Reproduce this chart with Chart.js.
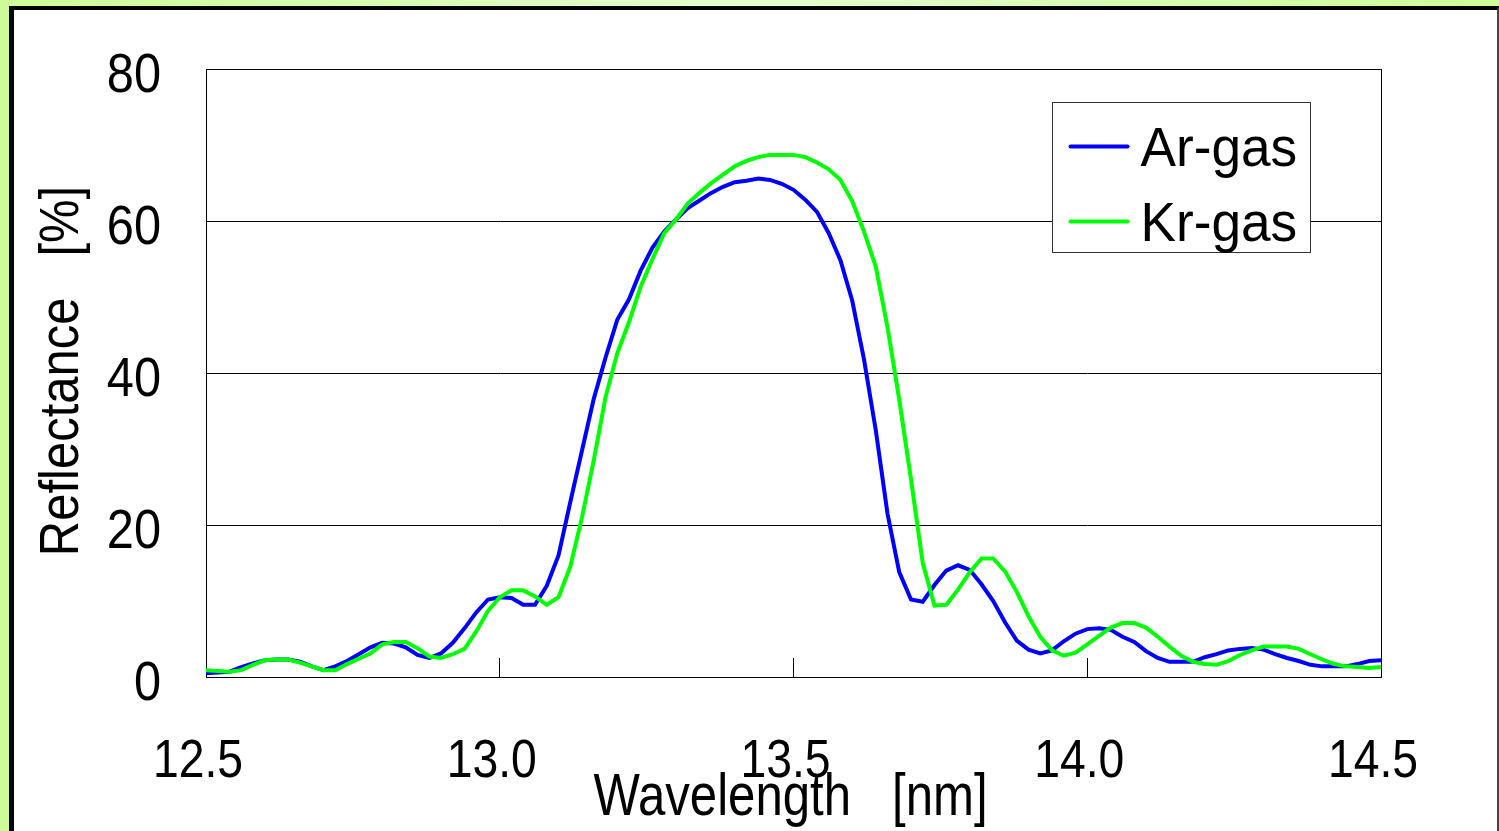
<!DOCTYPE html>
<html>
<head>
<meta charset="utf-8">
<title>Reflectance vs Wavelength</title>
<script src="https://cdn.jsdelivr.net/npm/chart.js@4/dist/chart.umd.min.js"></script>
<style>
  html, body { margin: 0; padding: 0; width: 1499px; height: 831px; overflow: hidden; }
  body {
    position: relative;
    background: linear-gradient(to right, #cefb98 0%, #e3fdcf 50%, #cefb98 100%);
  }
  #frame {
    position: absolute; left: 9px; top: 6px;
    width: 1483px; height: 900px;
    background: #ffffff;
    border-left: 5px solid #000;
    border-top: 4px solid #000;
    border-right: 2px solid #444;
  }
  #chart { position: absolute; left: 0; top: 0; }
</style>
</head>
<body>
<div id="frame"></div>
<canvas id="chart" width="1499" height="831"></canvas>
<script>
// Wavelength samples [nm]
const wavelength = [
  12.50, 12.52, 12.54, 12.56, 12.58, 12.60, 12.62, 12.64, 12.66, 12.68,
  12.70, 12.72, 12.74, 12.76, 12.78, 12.80, 12.82, 12.84, 12.86, 12.88,
  12.90, 12.92, 12.94, 12.96, 12.98, 13.00, 13.02, 13.04, 13.06, 13.08,
  13.10, 13.12, 13.14, 13.16, 13.18, 13.20, 13.22, 13.24, 13.26, 13.28,
  13.30, 13.32, 13.34, 13.36, 13.38, 13.40, 13.42, 13.44, 13.46, 13.48,
  13.50, 13.52, 13.54, 13.56, 13.58, 13.60, 13.62, 13.64, 13.66, 13.68,
  13.70, 13.72, 13.74, 13.76, 13.78, 13.80, 13.82, 13.84, 13.86, 13.88,
  13.90, 13.92, 13.94, 13.96, 13.98, 14.00, 14.02, 14.04, 14.06, 14.08,
  14.10, 14.12, 14.14, 14.16, 14.18, 14.20, 14.22, 14.24, 14.26, 14.28,
  14.30, 14.32, 14.34, 14.36, 14.38, 14.40, 14.42, 14.44, 14.46, 14.48,
  14.50
];

// Reflectance [%], mirror deposited with Ar gas
const arGas = [
  0.5, 0.6, 0.7, 1.3, 1.8, 2.2, 2.3, 2.3, 2.0, 1.4,
  0.9, 1.4, 2.1, 3.0, 3.9, 4.5, 4.4, 3.9, 2.9, 2.5,
  3.1, 4.5, 6.4, 8.5, 10.2, 10.5, 10.4, 9.5, 9.5, 12.0,
  16.0, 23.0, 29.8, 36.6, 42.0, 47.0, 49.7, 53.5, 56.5, 58.6,
  60.2, 61.7, 62.7, 63.7, 64.5, 65.1, 65.3, 65.6, 65.4, 64.9,
  64.1, 62.8, 61.2, 58.4, 54.8, 49.5, 41.8, 32.5, 21.5, 13.8,
  10.2, 9.9, 12.1, 14.0, 14.7, 14.1, 12.2, 10.0, 7.2, 4.8,
  3.6, 3.1, 3.5, 4.7, 5.7, 6.3, 6.4, 6.2, 5.3, 4.6,
  3.4, 2.5, 2.0, 2.0, 2.0, 2.6, 3.0, 3.5, 3.7, 3.8,
  3.6, 3.0, 2.5, 2.1, 1.6, 1.4, 1.4, 1.4, 1.7, 2.1,
  2.2
];

// Reflectance [%], mirror deposited with Kr gas
const krGas = [
  0.9, 0.8, 0.7, 0.9, 1.6, 2.2, 2.3, 2.3, 1.9, 1.4,
  0.9, 0.9, 1.7, 2.4, 3.1, 4.3, 4.6, 4.6, 3.8, 2.7,
  2.5, 3.0, 3.7, 6.0, 8.7, 10.5, 11.4, 11.4, 10.6, 9.5,
  10.5, 14.5, 21.0, 28.5, 36.8, 42.6, 46.7, 51.4, 55.0, 58.4,
  60.2, 62.3, 63.7, 65.0, 66.1, 67.2, 67.9, 68.4, 68.7, 68.7,
  68.7, 68.4, 67.7, 66.8, 65.4, 62.6, 58.6, 54.0, 46.0, 36.5,
  26.0, 15.0, 9.4, 9.5, 11.5, 13.8, 15.6, 15.6, 13.9, 11.2,
  8.0, 5.3, 3.5, 2.8, 3.2, 4.3, 5.4, 6.5, 7.1, 7.1,
  6.5, 5.3, 4.0, 2.8, 2.0, 1.7, 1.6, 2.1, 2.9, 3.5,
  4.0, 4.0, 4.0, 3.7, 3.0, 2.3, 1.7, 1.4, 1.3, 1.2,
  1.3
];

const seriesLabels = ['Ar-gas', 'Kr-gas'];
const xTickValues = [12.5, 13.0, 13.5, 14.0, 14.5];
const yTickValues = [0, 20, 40, 60, 80];
const xTitle = 'Wavelength   [nm]';
const yTitle = 'Reflectance   [%]';

const FONT = '"Liberation Sans", Arial, "DejaVu Sans", sans-serif';

const toPoints = (xs, ys) => xs.map((x, i) => ({ x: x, y: ys[i] }));

// Draws a horizontally condensed string (the typeface is set narrow)
function condensedText(ctx, text, x, y, size, sx, align, rotated) {
  ctx.save();
  ctx.translate(x, y);
  if (rotated) ctx.rotate(-Math.PI / 2);
  ctx.scale(sx, 1);
  ctx.font = size + 'px ' + FONT;
  ctx.fillStyle = '#000';
  ctx.textAlign = align;
  ctx.textBaseline = 'alphabetic';
  ctx.fillText(text, 0, 0);
  ctx.restore();
}

// Box around the plotting area
const plotFrame = {
  id: 'plotFrame',
  beforeDatasetsDraw(chart) {
    const { ctx, chartArea: a } = chart;
    ctx.save();
    ctx.strokeStyle = '#000';
    ctx.lineWidth = 1;
    ctx.strokeRect(Math.round(a.left) + 0.5, Math.round(a.top) + 0.5,
                   Math.round(a.right - a.left), Math.round(a.bottom - a.top));
    ctx.restore();
  }
};

// Boxed legend in the upper right of the plot
const boxedLegend = {
  id: 'boxedLegend',
  afterDatasetsDraw(chart) {
    const { ctx, chartArea: a } = chart;
    const w = 258, h = 150;
    const x0 = Math.round(a.right - 71 - w) + 0.5;
    const y0 = Math.round(a.top + 33) + 0.5;
    ctx.save();
    ctx.fillStyle = '#fff';
    ctx.fillRect(x0, y0, w, h);
    ctx.strokeStyle = '#333';
    ctx.lineWidth = 1;
    ctx.strokeRect(x0, y0, w, h);
    chart.data.datasets.forEach((ds, i) => {
      const cy = y0 + 44 + i * 75;
      ctx.strokeStyle = ds.borderColor;
      ctx.lineWidth = 4;
      ctx.lineCap = 'round';
      ctx.beginPath();
      ctx.moveTo(x0 + 18, cy);
      ctx.lineTo(x0 + 75, cy);
      ctx.stroke();
      condensedText(ctx, ds.label, x0 + 88, cy + 19, 56, 0.95, 'left', false);
    });
    ctx.restore();
  }
};

// Tick labels and axis titles in the condensed face
const axisText = {
  id: 'axisText',
  afterDraw(chart) {
    const { ctx, chartArea: a } = chart;
    const xs = chart.scales.x, ys = chart.scales.y;
    xs.ticks.forEach(t => {
      condensedText(ctx, Number(t.value).toFixed(1),
        xs.getPixelForValue(t.value) - 8, a.bottom + 100, 54.5, 0.85, 'center', false);
    });
    ys.ticks.forEach(t => {
      condensedText(ctx, String(t.value),
        a.left - 45, ys.getPixelForValue(t.value) + 23, 56, 0.87, 'right', false);
    });
    condensedText(ctx, xTitle, (a.left + a.right) / 2 - 3, a.bottom + 138, 58.5, 0.84, 'center', false);
    condensedText(ctx, yTitle, 78, (a.top + a.bottom) / 2 - 2, 56, 0.875, 'center', true);
  }
};

new Chart(document.getElementById('chart'), {
  type: 'line',
  data: {
    datasets: [
      {
        label: seriesLabels[0],
        data: toPoints(wavelength, arGas),
        borderColor: '#0000ff',
        borderWidth: 4,
        pointRadius: 0,
        tension: 0,
        order: 1
      },
      {
        label: seriesLabels[1],
        data: toPoints(wavelength, krGas),
        borderColor: '#00ff00',
        borderWidth: 4,
        pointRadius: 0,
        tension: 0,
        order: 0
      }
    ]
  },
  options: {
    responsive: false,
    animation: false,
    events: [],
    layout: { padding: { left: 0, top: 69, right: 118, bottom: 0 } },
    plugins: {
      legend: { display: false },
      tooltip: { enabled: false }
    },
    scales: {
      x: {
        type: 'linear',
        min: 12.5,
        max: 14.5,
        afterBuildTicks: (scale) => { scale.ticks = xTickValues.map(v => ({ value: v })); },
        afterFit: (scale) => { scale.height = 154; },
        ticks: { display: false },
        grid: {
          drawOnChartArea: false,
          drawTicks: true,
          tickLength: -19,
          color: '#000',
          lineWidth: 1
        },
        border: { display: true, color: '#000', width: 1 },
        title: { display: false }
      },
      y: {
        min: 0,
        max: 80,
        afterBuildTicks: (scale) => { scale.ticks = yTickValues.map(v => ({ value: v })); },
        afterFit: (scale) => { scale.width = 206; },
        ticks: { display: false },
        grid: {
          drawTicks: false,
          color: '#000',
          lineWidth: 1
        },
        border: { display: true, color: '#000', width: 1 },
        title: { display: false }
      }
    }
  },
  plugins: [plotFrame, boxedLegend, axisText]
});
</script>
</body>
</html>
